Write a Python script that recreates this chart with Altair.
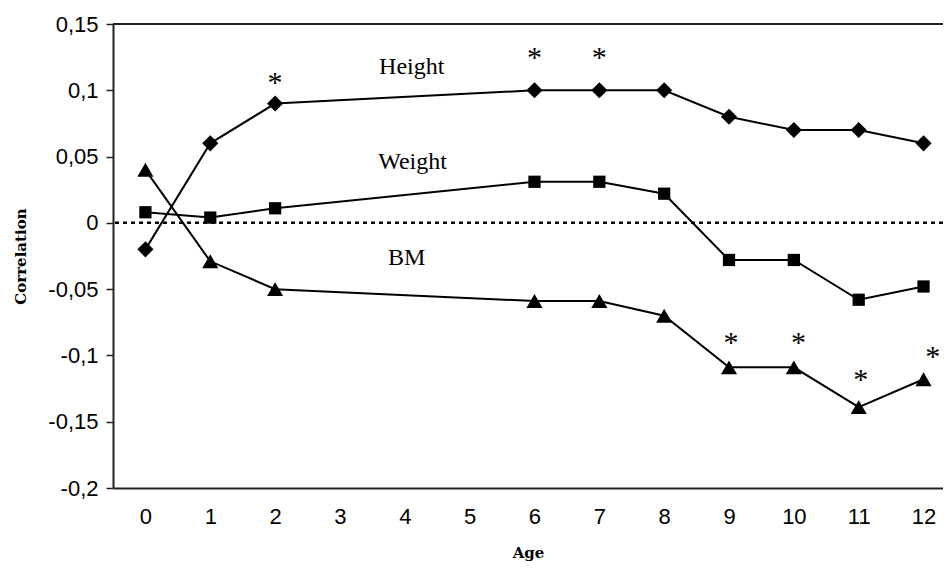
import altair as alt
import pandas as pd

ages = [0, 1, 2, 6, 7, 8, 9, 10, 11, 12]
height = [-0.020, 0.060, 0.090, 0.100, 0.100, 0.100, 0.080, 0.070, 0.070, 0.060]
weight = [0.008, 0.004, 0.011, 0.031, 0.031, 0.022, -0.028, -0.028, -0.058, -0.048]
bm = [0.040, -0.029, -0.050, -0.059, -0.059, -0.070, -0.109, -0.109, -0.139, -0.118]

series_names = ["Height", "Weight", "BM"]
label_x = [4.107, 4.12, 4.03]
label_y = [0.1125, 0.0405, -0.0315]

star_x = [2, 6, 7, 9.03, 10.07, 11.03, 12.14]
star_y = [0.1095, 0.1285, 0.1285, -0.087, -0.087, -0.115, -0.0975]

x_ticks = list(range(0, 13))
y_ticks = [-0.2, -0.15, -0.1, -0.05, 0, 0.05, 0.1, 0.15]

rows = []
for name, vals in zip(series_names, [height, weight, bm]):
    for a, v in zip(ages, vals):
        rows.append({"series": name, "age": a, "value": v})
df = pd.DataFrame(rows)
labels_df = pd.DataFrame({"series": series_names, "x": label_x, "y": label_y})
stars_df = pd.DataFrame({"x": star_x, "y": star_y, "t": ["*"] * len(star_x)})

xscale = alt.Scale(domain=[-0.5, 12.3], nice=False, zero=False)
yscale = alt.Scale(domain=[-0.2, 0.15], nice=False, zero=False)

marker_shapes = {"Height": "diamond", "Weight": "square", "BM": "triangle-up"}
marker_sizes = {"Height": 260, "Weight": 150, "BM": 260}

x_axis = alt.Axis(
    values=x_ticks, format="d", ticks=False, tickSize=0, grid=False, labelAngle=0,
    labelFont="Liberation Sans", labelFontSize=22, labelColor="black",
    labelPadding=18, domainColor="#222", domainWidth=2,
    title="Age", titleFont="DejaVu Serif", titleFontSize=15, titleFontWeight="bold",
    titleColor="black", titlePadding=18,
)
y_axis = alt.Axis(
    values=y_ticks, grid=False, tickSize=7, tickWidth=1.5, tickColor="#222",
    labelFont="Liberation Sans", labelFontSize=22, labelColor="black",
    labelPadding=8, labelExpr="replace(toString(datum.value), '.', ',')",
    domainColor="#222", domainWidth=2,
    title="Correlation", titleFont="DejaVu Serif", titleFontSize=15,
    titleFontWeight="bold", titleColor="black", titlePadding=19,
)

base = alt.Chart(df)

lines = base.mark_line(color="black", strokeWidth=2).encode(
    x=alt.X("age:Q", scale=xscale, axis=x_axis),
    y=alt.Y("value:Q", scale=yscale, axis=y_axis),
    detail="series:N",
)

point_layers = []
for name in series_names:
    point_layers.append(
        base.transform_filter(alt.datum.series == name).mark_point(
            filled=True, color="black", opacity=1, strokeWidth=0,
            shape=marker_shapes[name], size=marker_sizes[name],
        ).encode(
            x=alt.X("age:Q", scale=xscale),
            y=alt.Y("value:Q", scale=yscale),
        )
    )

zero_line = alt.Chart(pd.DataFrame({"y": [0]})).mark_rule(
    color="black", strokeWidth=2.5, strokeDash=[4, 4]
).encode(y=alt.Y("y:Q", scale=yscale))

top_line = alt.Chart(pd.DataFrame({"y": [0.15]})).mark_rule(
    color="#222", strokeWidth=2
).encode(y=alt.Y("y:Q", scale=yscale))

labels = alt.Chart(labels_df).mark_text(
    font="Liberation Serif", fontSize=24, color="black", align="center", baseline="alphabetic"
).encode(
    x=alt.X("x:Q", scale=xscale),
    y=alt.Y("y:Q", scale=yscale),
    text="series:N",
)

stars = alt.Chart(stars_df).mark_text(
    font="Liberation Serif", fontSize=30, color="black", align="center",
    baseline="alphabetic", dy=14,
).encode(
    x=alt.X("x:Q", scale=xscale),
    y=alt.Y("y:Q", scale=yscale),
    text="t:N",
)

chart = alt.layer(zero_line, top_line, lines, *point_layers, labels, stars).properties(
    width=830, height=464,
    autosize=alt.AutoSizeParams(type="none"),
    padding={"left": 105, "top": 16, "right": 0, "bottom": 75},
).configure_view(stroke=None)

chart.save("out.html", embed_options={"renderer": "svg", "actions": False})
